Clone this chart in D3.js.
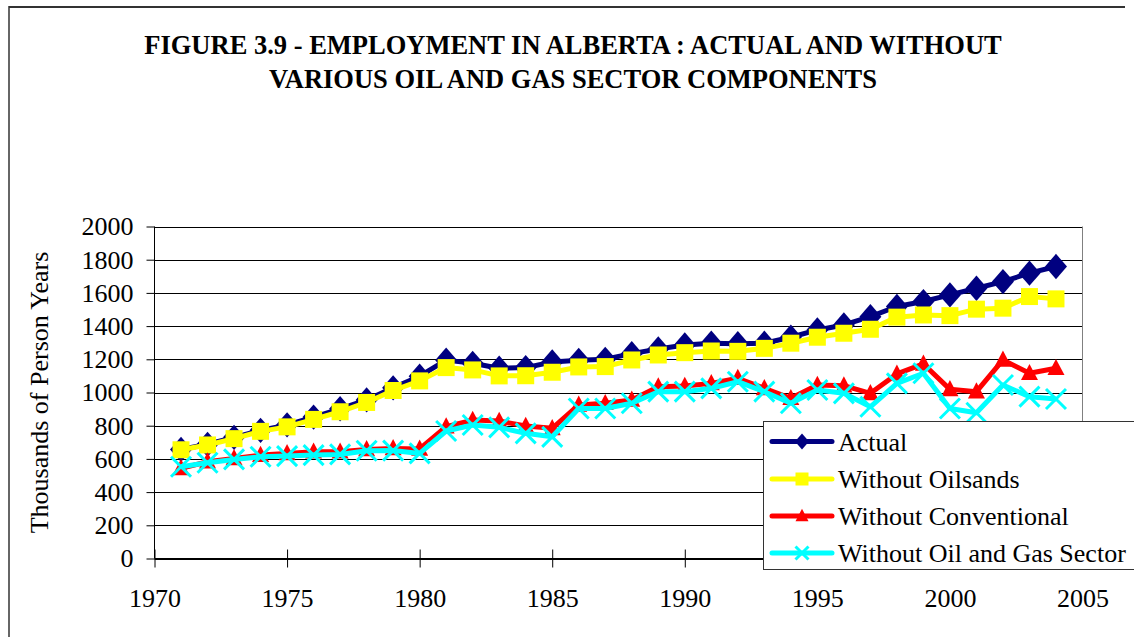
<!DOCTYPE html>
<html lang="en">
<head>
    <meta charset="UTF-8">
    <script src="https://d3js.org/d3.v7.min.js"></script>
    <title>Employment in Alberta</title>
    <style>
        body { margin: 0; background: white; }
        svg text { font-family: "Liberation Serif", "Times New Roman", "Liberation Sans", sans-serif; }
    </style>
</head>
<body>
    <div class="chart"></div>
    <script>
        // data (thousands of person years)
        const years = d3.range(1971, 2005);
        const actual = [657, 688, 730, 772, 805, 852, 902, 955, 1028, 1098,
            1195, 1176, 1146, 1150, 1184, 1194, 1200, 1234, 1262, 1286,
            1297, 1294, 1297, 1333, 1377, 1407, 1457, 1518, 1548, 1588,
            1628, 1668, 1719, 1759];
        const withoutOilsands = [655, 684, 722, 766, 793, 838, 884, 940, 1012, 1070,
            1150, 1136, 1100, 1101, 1122, 1154, 1156, 1196, 1226, 1240,
            1250, 1248, 1266, 1297, 1333, 1357, 1381, 1454, 1467, 1463,
            1502, 1508, 1578, 1564];
        const withoutConventional = [543, 583, 603, 623, 633, 643, 643, 657, 663, 660,
            794, 834, 828, 798, 784, 925, 935, 955, 1035, 1039,
            1055, 1086, 1025, 965, 1045, 1041, 995, 1112, 1172, 1019,
            1005, 1196, 1116, 1146];
        const withoutOilGas = [553, 577, 597, 613, 617, 623, 627, 649, 650, 633,
            768, 804, 790, 754, 733, 904, 904, 935, 1005, 1005,
            1025, 1065, 1005, 935, 1015, 995, 914, 1055, 1116, 904,
            878, 1045, 975, 961];

        const seriesNames = ["Actual", "Without Oilsands", "Without Conventional", "Without Oil and Gas Sector"];
        const seriesColors = ["#000080", "#ffff00", "#ff0000", "#00ffff"];
        const seriesShapes = ["diamond", "square", "triangle", "x"];
        const seriesValues = [actual, withoutOilsands, withoutConventional, withoutOilGas];

        const yTicks = d3.range(0, 2001, 200);
        const xTicks = d3.range(1970, 2006, 5);

        const width = 1134, height = 637;
        const plot = { left: 154.5, right: 1082.5, top: 226.5, bottom: 558.5 };

        const svg = d3.select(".chart").append("svg")
            .attr("width", width)
            .attr("height", height)
            .style("display", "block");

        // outer frame (clipped on the right and bottom in the original)
        svg.append("line").attr("x1", 9).attr("x2", 1125).attr("y1", 7).attr("y2", 7)
            .attr("stroke", "#333").attr("stroke-width", 2);
        svg.append("line").attr("x1", 9).attr("x2", 9).attr("y1", 6).attr("y2", height)
            .attr("stroke", "#333").attr("stroke-width", 1.5);

        // title
        const title = svg.append("text")
            .attr("text-anchor", "middle")
            .attr("font-weight", "bold")
            .attr("font-size", 26.5)
            .attr("fill", "#000");
        title.append("tspan").attr("x", 573).attr("y", 54)
            .text("FIGURE 3.9 - EMPLOYMENT IN ALBERTA : ACTUAL AND WITHOUT");
        title.append("tspan").attr("x", 573).attr("y", 88)
            .text("VARIOUS OIL AND GAS SECTOR COMPONENTS");

        const x = d3.scaleLinear().domain([1970, 2005]).range([plot.left, plot.right]);
        const y = d3.scaleLinear().domain([0, 2000]).range([plot.bottom, plot.top]);

        // gridlines
        svg.append("g")
            .selectAll("line")
            .data(yTicks)
            .enter()
            .append("line")
            .attr("x1", plot.left)
            .attr("x2", plot.right)
            .attr("y1", d => Math.round(y(d)) + 0.5)
            .attr("y2", d => Math.round(y(d)) + 0.5)
            .attr("stroke", "#000")
            .attr("stroke-width", 1);

        // plot area right border
        svg.append("line")
            .attr("x1", plot.right).attr("x2", plot.right)
            .attr("y1", plot.top).attr("y2", plot.bottom)
            .attr("stroke", "#808080");

        // y axis
        const yAxis = svg.append("g")
            .attr("transform", `translate(${plot.left},0)`)
            .call(d3.axisLeft(y).tickValues(yTicks).tickSize(8).tickPadding(13).tickFormat(d3.format("d")));
        yAxis.attr("font-family", null);
        yAxis.select(".domain").attr("stroke", "#000").attr("d", `M0,${plot.top}V${plot.bottom}`);
        yAxis.selectAll(".tick line").attr("stroke", "#000");
        yAxis.selectAll(".tick text")
            .attr("font-size", 26)
            .attr("fill", "#000");

        // x axis with ticks crossing the line
        const xAxis = svg.append("g")
            .attr("transform", `translate(0,${plot.bottom})`)
            .call(d3.axisBottom(x).tickValues(xTicks).tickSize(9).tickPadding(21).tickFormat(d3.format("d")));
        xAxis.attr("font-family", null);
        xAxis.select(".domain").attr("stroke", "#000").attr("d", `M${plot.left},0H${plot.right}`);
        xAxis.selectAll(".tick line").attr("stroke", "#000").attr("y1", -9).attr("y2", 9);
        xAxis.selectAll(".tick text")
            .attr("font-size", 26)
            .attr("fill", "#000");

        // y axis label
        svg.append("text")
            .attr("transform", `translate(48,${(plot.top + plot.bottom) / 2}) rotate(-90)`)
            .attr("text-anchor", "middle")
            .attr("font-size", 26)
            .attr("fill", "#000")
            .text("Thousands of Person Years");

        const markerPath = (shape, s) => {
            if (shape === "diamond") return `M0,${-s * 1.15}L${s},0L0,${s * 1.15}L${-s},0Z`;
            if (shape === "square") return `M${-s},${-s}H${s}V${s}H${-s}Z`;
            if (shape === "triangle") return `M0,${-s * 1.1}L${s},${s * 0.8}L${-s},${s * 0.8}Z`;
            return `M${-s},${-s}L${s},${s}M${-s},${s}L${s},${-s}`;
        };
        const markerSize = { diamond: 11, square: 8.5, triangle: 8.5, x: 10 };

        const line = d3.line()
            .x((d, i) => x(years[i]))
            .y(d => y(d));

        seriesValues.forEach((vals, k) => {
            const g = svg.append("g");
            const color = seriesColors[k];
            const shape = seriesShapes[k];
            g.append("path")
                .datum(vals)
                .attr("d", line)
                .attr("fill", "none")
                .attr("stroke", color)
                .attr("stroke-width", 5)
                .attr("stroke-linejoin", "round");
            g.selectAll("path.mk")
                .data(vals)
                .enter()
                .append("path")
                .attr("class", "mk")
                .attr("transform", (d, i) => `translate(${x(years[i])},${y(d)})`)
                .attr("d", markerPath(shape, markerSize[shape]))
                .attr("fill", shape === "x" ? "none" : color)
                .attr("stroke", color)
                .attr("stroke-width", shape === "x" ? 3 : 0);
        });

        // legend
        const legend = svg.append("g");
        legend.append("rect")
            .attr("x", 763.5).attr("y", 421.5)
            .attr("width", 400).attr("height", 148)
            .attr("fill", "white")
            .attr("stroke", "#333")
            .attr("stroke-width", 1);
        const legendY = [441.5, 479, 516, 553];
        seriesNames.forEach((name, k) => {
            const row = legend.append("g").attr("transform", `translate(0,${legendY[k]})`);
            row.append("line")
                .attr("x1", 772).attr("x2", 832)
                .attr("stroke", seriesColors[k])
                .attr("stroke-width", 5)
                .attr("stroke-linecap", "round");
            row.append("path")
                .attr("transform", "translate(802,0)")
                .attr("d", markerPath(seriesShapes[k], seriesShapes[k] === "diamond" ? 7 : 6.5))
                .attr("fill", seriesShapes[k] === "x" ? "none" : seriesColors[k])
                .attr("stroke", seriesColors[k])
                .attr("stroke-width", seriesShapes[k] === "x" ? 3 : 0);
            row.append("text")
                .attr("x", 838)
                .attr("y", 9)
                .attr("font-size", 26)
                .attr("fill", "#000")
                .text(name);
        });
    </script>
</body>
</html>
